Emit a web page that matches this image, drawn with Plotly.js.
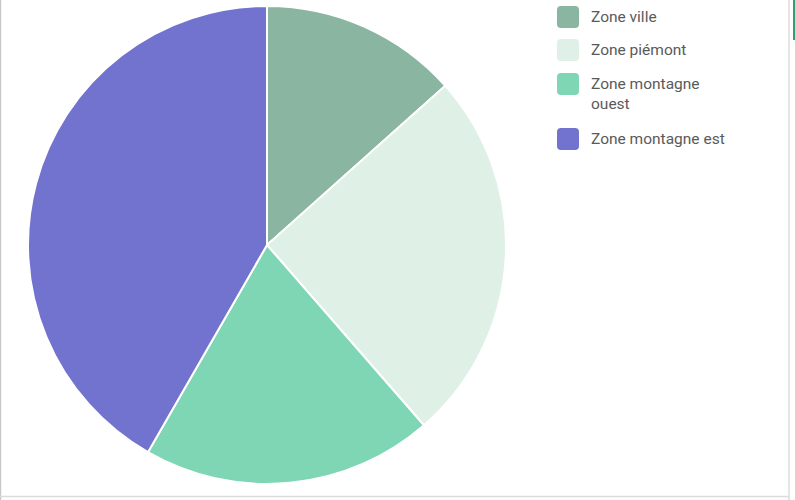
<!DOCTYPE html>
<html>
<head>
<meta charset="utf-8">
<script src="https://cdn.plot.ly/plotly-3.0.1.min.js"></script>
<style>
html,body{margin:0;padding:0;background:#fff;}
#chart{width:795px;height:500px;}
</style>
</head>
<body>
<div id="chart"></div>
<script>
const labels = ["Zone ville", "Zone piémont", "Zone montagne ouest", "Zone montagne est"];
const legendLabels = ["Zone ville", "Zone piémont", "Zone montagne<br>ouest", "Zone montagne est"];
const values = [13.4, 25.2, 19.7, 41.7];
const colors = ["#8ab5a0", "#dff0e6", "#7fd6b4", "#7272cf"];

const W = 795, H = 500;
const px = x => x / W;
const py = y => 1 - y / H;

// legend layout in pixels
const legX = 557, legSize = 22, legTextX = 589;
const legRowY = [17, 50, 84, 139];

function roundRect(x, y, w, h, r) {
  const X = v => px(v), Y = v => py(v);
  return `M${X(x+r)},${Y(y)} L${X(x+w-r)},${Y(y)} Q${X(x+w)},${Y(y)} ${X(x+w)},${Y(y+r)} ` +
         `L${X(x+w)},${Y(y+h-r)} Q${X(x+w)},${Y(y+h)} ${X(x+w-r)},${Y(y+h)} ` +
         `L${X(x+r)},${Y(y+h)} Q${X(x)},${Y(y+h)} ${X(x)},${Y(y+h-r)} ` +
         `L${X(x)},${Y(y+r)} Q${X(x)},${Y(y)} ${X(x+r)},${Y(y)} Z`;
}

const shapes = [];
const annotations = [];
labels.forEach((l, i) => {
  const cy = legRowY[i];
  shapes.push({
    type: "path", xref: "paper", yref: "paper",
    path: roundRect(legX, cy - legSize / 2, legSize, legSize, 4),
    fillcolor: colors[i], line: {width: 0}
  });
  annotations.push({
    xref: "paper", yref: "paper",
    x: px(legTextX), y: py(cy - 11),
    xanchor: "left", yanchor: "top", align: "left",
    text: legendLabels[i], showarrow: false,
    font: {family: "Roboto, sans-serif", size: 15.5, color: "#5a5a5a"}
  });
});

// thin frame lines
shapes.push({type: "line", xref: "paper", yref: "paper", x0: px(0.5), x1: px(0.5), y0: 0, y1: 1, line: {color: "#c8c8c8", width: 1.5}});
shapes.push({type: "line", xref: "paper", yref: "paper", x0: px(789), x1: px(789), y0: 0, y1: 1, line: {color: "#dcdcdc", width: 1.5}});
shapes.push({type: "line", xref: "paper", yref: "paper", x0: 0, x1: px(789), y0: py(496.5), y1: py(496.5), line: {color: "#dcdcdc", width: 1.5}});
shapes.push({type: "line", xref: "paper", yref: "paper", x0: px(794), x1: px(794), y0: py(0), y1: py(40), line: {color: "#2e9e78", width: 2}});

const data = [{
  type: "pie",
  labels: labels,
  values: values,
  sort: false,
  direction: "clockwise",
  rotation: 0,
  marker: {colors: colors, line: {color: "#ffffff", width: 2}},
  textinfo: "none",
  hoverinfo: "label+percent",
  domain: {x: [px(28), px(506)], y: [py(484), py(6)]},
  showlegend: false
}];

const layout = {
  width: W, height: H,
  margin: {l: 0, r: 0, t: 0, b: 0},
  paper_bgcolor: "#ffffff",
  showlegend: false,
  shapes: shapes,
  annotations: annotations
};

Plotly.newPlot("chart", data, layout, {displayModeBar: false, staticPlot: true});
</script>
</body>
</html>
